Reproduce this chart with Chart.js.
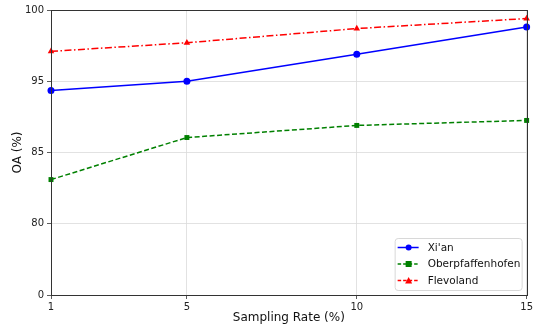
<!DOCTYPE html>
<html>
<head>
<meta charset="utf-8">
<script src="https://cdn.jsdelivr.net/npm/chart.js@4.4.1/dist/chart.umd.min.js"></script>
<style>
  html, body { margin: 0; padding: 0; background: #fff; }
  #wrap { width: 535px; height: 325px; position: relative; }
</style>
</head>
<body>
<div id="wrap"><canvas id="chart"></canvas></div>
<script>
// sampling rates (%) on the x axis
const samplingRates = [1, 5, 10, 15];

// OA (%)
const xian = [93.7, 95.0, 96.9, 98.8];
const oberpfaffenhofen = [83.1, 87.1, 88.8, 89.5];
const flevoland = [97.1, 97.7, 98.7, 99.4];

// y tick labels, drawn evenly spaced like the original (broken axis)
const yTickLabels = [0, 80, 85, 95, 100];

// value -> position on the evenly spaced tick axis (piecewise linear)
function toAxis(v){
  for(let i=1;i<yTickLabels.length;i++){
    const a = yTickLabels[i-1], b = yTickLabels[i];
    if(v <= b) return (i-1) + (v-a)/(b-a);
  }
  return yTickLabels.length - 1;
}

const FONT = '"DejaVu Sans", sans-serif';

function points(vals){
  return samplingRates.map((x,i)=>({ x: x, y: toAxis(vals[i]) }));
}

const series = [
  { label: "Xi'an", vals: xian, color: '#0000ff', dash: [], marker: 'circle', radius: 3.5 },
  { label: 'Oberpfaffenhofen', vals: oberpfaffenhofen, color: '#008000', dash: [5, 2.5], marker: 'rect', radius: 3.5 },
  { label: 'Flevoland', vals: flevoland, color: '#ff0000', dash: [7, 2.5, 1.5, 2.5], marker: 'triangle', radius: 3.8 }
];

// frame around the plot area
const boxPlugin = {
  id: 'box',
  afterDraw(chart){
    const { ctx, chartArea: a } = chart;
    ctx.save();
    ctx.strokeStyle = '#333';
    ctx.lineWidth = 1;
    ctx.strokeRect(Math.round(a.left)+0.5, Math.round(a.top)+0.5, Math.round(a.right-a.left), Math.round(a.bottom-a.top));
    ctx.restore();
  }
};

// matplotlib-like legend in the lower right of the plot
const legendPlugin = {
  id: 'mplLegend',
  afterDraw(chart){
    const { ctx, chartArea: a } = chart;
    const w = 127, h = 52;
    const x0 = a.right - w - 5, y0 = a.bottom - h - 5;
    ctx.save();
    ctx.fillStyle = 'rgba(255,255,255,0.85)';
    ctx.strokeStyle = '#d8d8d8';
    ctx.lineWidth = 1;
    ctx.beginPath();
    ctx.roundRect(x0+0.5, y0+0.5, w, h, 3);
    ctx.fill();
    ctx.stroke();
    ctx.font = '10.5px ' + FONT;
    ctx.textBaseline = 'middle';
    series.forEach((s,i)=>{
      const y = y0 + 9.5 + i*16.5;
      ctx.strokeStyle = s.color;
      ctx.lineWidth = 1.5;
      ctx.setLineDash(s.dash.length ? [3.5, 2] : []);
      ctx.beginPath();
      ctx.moveTo(x0+3, y);
      ctx.lineTo(x0+24, y);
      ctx.stroke();
      ctx.setLineDash([]);
      ctx.fillStyle = s.color;
      const cx = x0 + 14;
      ctx.beginPath();
      if(s.marker === 'circle'){ ctx.arc(cx, y, 3, 0, Math.PI*2); }
      else if(s.marker === 'rect'){ ctx.rect(cx-3, y-3, 6, 6); }
      else { ctx.moveTo(cx, y-3.5); ctx.lineTo(cx+3.5, y+3); ctx.lineTo(cx-3.5, y+3); ctx.closePath(); }
      ctx.fill();
      ctx.fillStyle = '#111';
      ctx.fillText(s.label, x0+33, y+0.5);
    });
    ctx.restore();
  }
};

new Chart(document.getElementById('chart'), {
  type: 'line',
  data: {
    datasets: series.map(s => ({
      label: s.label,
      data: points(s.vals),
      borderColor: s.color,
      backgroundColor: s.color,
      borderWidth: 1.5,
      borderDash: s.dash,
      pointStyle: s.marker,
      pointRadius: s.radius,
      pointBorderWidth: 0,
      fill: false,
      tension: 0,
      clip: false
    }))
  },
  options: {
    responsive: true,
    maintainAspectRatio: false,
    animation: false,
    layout: { padding: { left: 0, right: 4, top: 10, bottom: 0 } },
    plugins: { legend: { display: false }, tooltip: { enabled: false } },
    scales: {
      x: {
        type: 'linear',
        min: 1, max: 15,
        afterBuildTicks(scale){ scale.ticks = samplingRates.map(v => ({ value: v })); },
        afterFit(scale){ scale.height = 30; },
        border: { display: false },
        grid: { color: '#dadada', lineWidth: 0.8, borderDash: [3, 3], tickColor: '#333', tickLength: 4, tickBorderDash: [] },
        ticks: { color: '#222', font: { family: FONT, size: 10 }, padding: 2, maxRotation: 0 },
        title: { display: true, text: 'Sampling Rate (%)', color: '#111', font: { family: FONT, size: 12 }, padding: { top: 0, bottom: 0 } }
      },
      y: {
        type: 'linear',
        min: 0, max: yTickLabels.length - 1,
        afterBuildTicks(scale){ scale.ticks = yTickLabels.map((_,i) => ({ value: i })); },
        afterFit(scale){ scale.width = 51; },
        border: { display: false },
        grid: { color: '#dadada', lineWidth: 0.8, borderDash: [3, 3], tickColor: '#333', tickLength: 4, tickBorderDash: [] },
        ticks: { color: '#222', font: { family: FONT, size: 10 }, padding: 3, callback: (v) => yTickLabels[v] },
        title: { display: true, text: 'OA (%)', color: '#111', font: { family: FONT, size: 12 }, padding: { top: 11, bottom: 0 } }
      }
    }
  },
  plugins: [boxPlugin, legendPlugin]
});
</script>
</body>
</html>
